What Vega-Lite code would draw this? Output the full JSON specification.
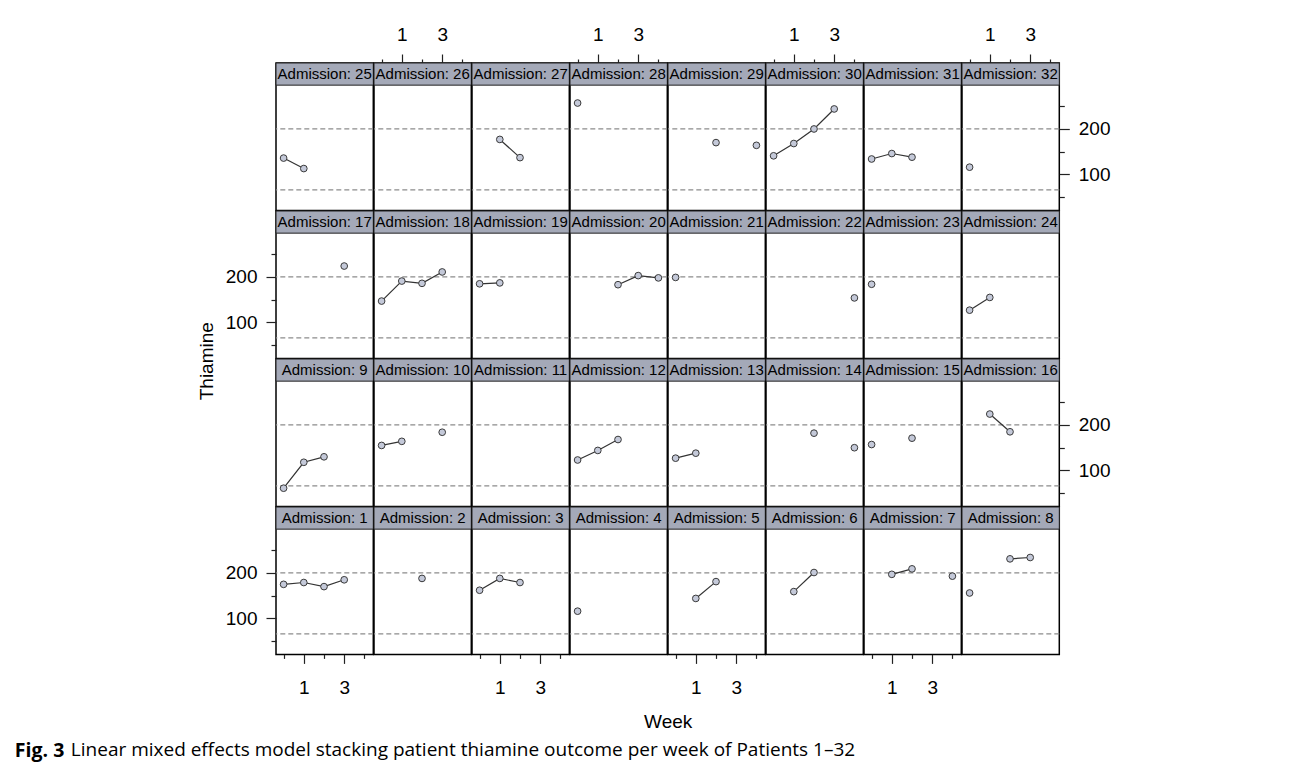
{
"$schema":"https://vega.github.io/schema/vega-lite/v6.json",
"background":"white",
"padding":{"left":14,"top":24,"right":5,"bottom":3},
"datasets":{
"refs":[{"ref":66},{"ref":200}],
"strips":[{"a":1,"label":"Admission: 1"},{"a":2,"label":"Admission: 2"},{"a":3,"label":"Admission: 3"},{"a":4,"label":"Admission: 4"},{"a":5,"label":"Admission: 5"},{"a":6,"label":"Admission: 6"},{"a":7,"label":"Admission: 7"},{"a":8,"label":"Admission: 8"},{"a":9,"label":"Admission: 9"},{"a":10,"label":"Admission: 10"},{"a":11,"label":"Admission: 11"},{"a":12,"label":"Admission: 12"},{"a":13,"label":"Admission: 13"},{"a":14,"label":"Admission: 14"},{"a":15,"label":"Admission: 15"},{"a":16,"label":"Admission: 16"},{"a":17,"label":"Admission: 17"},{"a":18,"label":"Admission: 18"},{"a":19,"label":"Admission: 19"},{"a":20,"label":"Admission: 20"},{"a":21,"label":"Admission: 21"},{"a":22,"label":"Admission: 22"},{"a":23,"label":"Admission: 23"},{"a":24,"label":"Admission: 24"},{"a":25,"label":"Admission: 25"},{"a":26,"label":"Admission: 26"},{"a":27,"label":"Admission: 27"},{"a":28,"label":"Admission: 28"},{"a":29,"label":"Admission: 29"},{"a":30,"label":"Admission: 30"},{"a":31,"label":"Admission: 31"},{"a":32,"label":"Admission: 32"}],
"obs":[
{"a":1,"week":0,"thiamine":175},{"a":1,"week":1,"thiamine":179},{"a":1,"week":2,"thiamine":170},{"a":1,"week":3,"thiamine":185},
{"a":2,"week":2,"thiamine":188},
{"a":3,"week":0,"thiamine":162},{"a":3,"week":1,"thiamine":188},{"a":3,"week":2,"thiamine":179},
{"a":4,"week":0,"thiamine":116},
{"a":5,"week":1,"thiamine":144},{"a":5,"week":2,"thiamine":181},
{"a":6,"week":1,"thiamine":159},{"a":6,"week":2,"thiamine":201},
{"a":7,"week":1,"thiamine":197},{"a":7,"week":2,"thiamine":209},{"a":7,"week":3,"thiamine":null},{"a":7,"week":4,"thiamine":193},
{"a":8,"week":0,"thiamine":156},{"a":8,"week":1,"thiamine":null},{"a":8,"week":2,"thiamine":231},{"a":8,"week":3,"thiamine":234},
{"a":9,"week":0,"thiamine":61},{"a":9,"week":1,"thiamine":118},{"a":9,"week":2,"thiamine":130},
{"a":10,"week":0,"thiamine":155},{"a":10,"week":1,"thiamine":164},{"a":10,"week":2,"thiamine":null},{"a":10,"week":3,"thiamine":184},
{"a":12,"week":0,"thiamine":123},{"a":12,"week":1,"thiamine":144},{"a":12,"week":2,"thiamine":168},
{"a":13,"week":0,"thiamine":127},{"a":13,"week":1,"thiamine":138},
{"a":14,"week":2,"thiamine":182},{"a":14,"week":3,"thiamine":null},{"a":14,"week":4,"thiamine":150},
{"a":15,"week":0,"thiamine":157},{"a":15,"week":1,"thiamine":null},{"a":15,"week":2,"thiamine":171},
{"a":16,"week":1,"thiamine":224},{"a":16,"week":2,"thiamine":185},
{"a":17,"week":3,"thiamine":224},
{"a":18,"week":0,"thiamine":147},{"a":18,"week":1,"thiamine":191},{"a":18,"week":2,"thiamine":186},{"a":18,"week":3,"thiamine":211},
{"a":19,"week":0,"thiamine":185},{"a":19,"week":1,"thiamine":187},
{"a":20,"week":2,"thiamine":183},{"a":20,"week":3,"thiamine":203},{"a":20,"week":4,"thiamine":198},
{"a":21,"week":0,"thiamine":199},
{"a":22,"week":4,"thiamine":154},
{"a":23,"week":0,"thiamine":184},
{"a":24,"week":0,"thiamine":127},{"a":24,"week":1,"thiamine":155},
{"a":25,"week":0,"thiamine":136},{"a":25,"week":1,"thiamine":113},
{"a":27,"week":1,"thiamine":177},{"a":27,"week":2,"thiamine":137},
{"a":28,"week":0,"thiamine":257},
{"a":29,"week":2,"thiamine":170},{"a":29,"week":3,"thiamine":null},{"a":29,"week":4,"thiamine":164},
{"a":30,"week":0,"thiamine":141},{"a":30,"week":1,"thiamine":168},{"a":30,"week":2,"thiamine":200},{"a":30,"week":3,"thiamine":244},
{"a":31,"week":0,"thiamine":134},{"a":31,"week":1,"thiamine":146},{"a":31,"week":2,"thiamine":138},
{"a":32,"week":0,"thiamine":116}
]},
"title":{"text":"Linear mixed effects model stacking patient thiamine outcome per week of Patients 1–32","orient":"bottom","anchor":"start","font":"Open Sans","fontWeight":"normal","fontSize":19,"dx":56,"offset":-19.3},
"vconcat":[{
"title":{"text":"Fig. 3","orient":"bottom","anchor":"start","font":"Open Sans","fontWeight":"bold","fontSize":19.5,"dx":-182.7,"offset":10},
"vconcat":[{
"title":{"text":"Week","orient":"bottom","anchor":"middle","dx":14,"offset":15},
"vconcat":[{
"title":{"text":"Thiamine","orient":"left","anchor":"middle","offset":8},
"columns":8,"spacing":0,"bounds":"flush",
"concat":[
{"width":97.3,"height":147.4,"layer":[{"data":{"name":"refs"},"mark":{"type":"rule","stroke":"#8c8c8c","strokeDash":[5,3],"strokeWidth":1.3},"encoding":{"y":{"field":"ref","type":"quantitative","scale":{"domain":[21,345],"nice":false},"axis":null}}},{"data":{"name":"strips"},"transform":[{"filter":"datum.a==25"}],"mark":{"type":"rect","fill":"#a4a9b8","stroke":"#222","strokeWidth":1},"encoding":{"x":{"value":0},"x2":{"value":"width"},"y":{"datum":296.3,"scale":{"domain":[21,345],"nice":false},"axis":null},"y2":{"datum":345}}},{"data":{"name":"strips"},"transform":[{"filter":"datum.a==25"}],"mark":{"type":"text","fontSize":15,"fill":"#000"},"encoding":{"text":{"field":"label"},"x":{"datum":2.032,"scale":{"domain":[-0.376,4.44],"nice":false},"axis":null},"y":{"datum":320.65,"scale":{"domain":[21,345],"nice":false},"axis":null}}},{"data":{"name":"obs"},"transform":[{"filter":"datum.a==25"}],"encoding":{"x":{"field":"week","type":"quantitative","scale":{"domain":[-0.376,4.44],"nice":false},"axis":null},"y":{"field":"thiamine","type":"quantitative","scale":{"domain":[21,345],"nice":false},"axis":null}},"layer":[{"mark":{"type":"line","color":"#333","strokeWidth":1.2,"invalid":"break-paths-filter-domains"}},{"mark":{"type":"point","shape":"circle","filled":true,"fill":"#c4c9d9","stroke":"#3a3a3a","strokeWidth":1,"size":45,"opacity":1}}]}]},
{"width":97.3,"height":147.4,"layer":[{"data":{"name":"refs"},"mark":{"type":"rule","stroke":"#8c8c8c","strokeDash":[5,3],"strokeWidth":1.3},"encoding":{"y":{"field":"ref","type":"quantitative","scale":{"domain":[21,345],"nice":false},"axis":null}}},{"data":{"name":"strips"},"transform":[{"filter":"datum.a==26"}],"mark":{"type":"rect","fill":"#a4a9b8","stroke":"#222","strokeWidth":1},"encoding":{"x":{"value":0},"x2":{"value":"width"},"y":{"datum":296.3,"scale":{"domain":[21,345],"nice":false},"axis":null},"y2":{"datum":345}}},{"data":{"name":"strips"},"transform":[{"filter":"datum.a==26"}],"mark":{"type":"text","fontSize":15,"fill":"#000"},"encoding":{"text":{"field":"label"},"x":{"datum":2.032,"scale":{"domain":[-0.376,4.44],"nice":false},"axis":{"orient":"top","title":null,"values":[0,1,2,3,4],"labelExpr":"datum.value==1||datum.value==3?datum.label:''","tickSize":{"condition":{"test":"datum.value==1||datum.value==3","value":9},"value":4},"labelPadding":10}},"y":{"datum":320.65,"scale":{"domain":[21,345],"nice":false},"axis":null}}},{"data":{"name":"obs"},"transform":[{"filter":"datum.a==26"}],"encoding":{"x":{"field":"week","type":"quantitative","scale":{"domain":[-0.376,4.44],"nice":false},"axis":{"orient":"top","title":null,"values":[0,1,2,3,4],"labelExpr":"datum.value==1||datum.value==3?datum.label:''","tickSize":{"condition":{"test":"datum.value==1||datum.value==3","value":9},"value":4},"labelPadding":10}},"y":{"field":"thiamine","type":"quantitative","scale":{"domain":[21,345],"nice":false},"axis":null}},"layer":[{"mark":{"type":"line","color":"#333","strokeWidth":1.2,"invalid":"break-paths-filter-domains"}},{"mark":{"type":"point","shape":"circle","filled":true,"fill":"#c4c9d9","stroke":"#3a3a3a","strokeWidth":1,"size":45,"opacity":1}}]}]},
{"width":97.3,"height":147.4,"layer":[{"data":{"name":"refs"},"mark":{"type":"rule","stroke":"#8c8c8c","strokeDash":[5,3],"strokeWidth":1.3},"encoding":{"y":{"field":"ref","type":"quantitative","scale":{"domain":[21,345],"nice":false},"axis":null}}},{"data":{"name":"strips"},"transform":[{"filter":"datum.a==27"}],"mark":{"type":"rect","fill":"#a4a9b8","stroke":"#222","strokeWidth":1},"encoding":{"x":{"value":0},"x2":{"value":"width"},"y":{"datum":296.3,"scale":{"domain":[21,345],"nice":false},"axis":null},"y2":{"datum":345}}},{"data":{"name":"strips"},"transform":[{"filter":"datum.a==27"}],"mark":{"type":"text","fontSize":15,"fill":"#000"},"encoding":{"text":{"field":"label"},"x":{"datum":2.032,"scale":{"domain":[-0.376,4.44],"nice":false},"axis":null},"y":{"datum":320.65,"scale":{"domain":[21,345],"nice":false},"axis":null}}},{"data":{"name":"obs"},"transform":[{"filter":"datum.a==27"}],"encoding":{"x":{"field":"week","type":"quantitative","scale":{"domain":[-0.376,4.44],"nice":false},"axis":null},"y":{"field":"thiamine","type":"quantitative","scale":{"domain":[21,345],"nice":false},"axis":null}},"layer":[{"mark":{"type":"line","color":"#333","strokeWidth":1.2,"invalid":"break-paths-filter-domains"}},{"mark":{"type":"point","shape":"circle","filled":true,"fill":"#c4c9d9","stroke":"#3a3a3a","strokeWidth":1,"size":45,"opacity":1}}]}]},
{"width":97.3,"height":147.4,"layer":[{"data":{"name":"refs"},"mark":{"type":"rule","stroke":"#8c8c8c","strokeDash":[5,3],"strokeWidth":1.3},"encoding":{"y":{"field":"ref","type":"quantitative","scale":{"domain":[21,345],"nice":false},"axis":null}}},{"data":{"name":"strips"},"transform":[{"filter":"datum.a==28"}],"mark":{"type":"rect","fill":"#a4a9b8","stroke":"#222","strokeWidth":1},"encoding":{"x":{"value":0},"x2":{"value":"width"},"y":{"datum":296.3,"scale":{"domain":[21,345],"nice":false},"axis":null},"y2":{"datum":345}}},{"data":{"name":"strips"},"transform":[{"filter":"datum.a==28"}],"mark":{"type":"text","fontSize":15,"fill":"#000"},"encoding":{"text":{"field":"label"},"x":{"datum":2.032,"scale":{"domain":[-0.376,4.44],"nice":false},"axis":{"orient":"top","title":null,"values":[0,1,2,3,4],"labelExpr":"datum.value==1||datum.value==3?datum.label:''","tickSize":{"condition":{"test":"datum.value==1||datum.value==3","value":9},"value":4},"labelPadding":10}},"y":{"datum":320.65,"scale":{"domain":[21,345],"nice":false},"axis":null}}},{"data":{"name":"obs"},"transform":[{"filter":"datum.a==28"}],"encoding":{"x":{"field":"week","type":"quantitative","scale":{"domain":[-0.376,4.44],"nice":false},"axis":{"orient":"top","title":null,"values":[0,1,2,3,4],"labelExpr":"datum.value==1||datum.value==3?datum.label:''","tickSize":{"condition":{"test":"datum.value==1||datum.value==3","value":9},"value":4},"labelPadding":10}},"y":{"field":"thiamine","type":"quantitative","scale":{"domain":[21,345],"nice":false},"axis":null}},"layer":[{"mark":{"type":"line","color":"#333","strokeWidth":1.2,"invalid":"break-paths-filter-domains"}},{"mark":{"type":"point","shape":"circle","filled":true,"fill":"#c4c9d9","stroke":"#3a3a3a","strokeWidth":1,"size":45,"opacity":1}}]}]},
{"width":97.3,"height":147.4,"layer":[{"data":{"name":"refs"},"mark":{"type":"rule","stroke":"#8c8c8c","strokeDash":[5,3],"strokeWidth":1.3},"encoding":{"y":{"field":"ref","type":"quantitative","scale":{"domain":[21,345],"nice":false},"axis":null}}},{"data":{"name":"strips"},"transform":[{"filter":"datum.a==29"}],"mark":{"type":"rect","fill":"#a4a9b8","stroke":"#222","strokeWidth":1},"encoding":{"x":{"value":0},"x2":{"value":"width"},"y":{"datum":296.3,"scale":{"domain":[21,345],"nice":false},"axis":null},"y2":{"datum":345}}},{"data":{"name":"strips"},"transform":[{"filter":"datum.a==29"}],"mark":{"type":"text","fontSize":15,"fill":"#000"},"encoding":{"text":{"field":"label"},"x":{"datum":2.032,"scale":{"domain":[-0.376,4.44],"nice":false},"axis":null},"y":{"datum":320.65,"scale":{"domain":[21,345],"nice":false},"axis":null}}},{"data":{"name":"obs"},"transform":[{"filter":"datum.a==29"}],"encoding":{"x":{"field":"week","type":"quantitative","scale":{"domain":[-0.376,4.44],"nice":false},"axis":null},"y":{"field":"thiamine","type":"quantitative","scale":{"domain":[21,345],"nice":false},"axis":null}},"layer":[{"mark":{"type":"line","color":"#333","strokeWidth":1.2,"invalid":"break-paths-filter-domains"}},{"mark":{"type":"point","shape":"circle","filled":true,"fill":"#c4c9d9","stroke":"#3a3a3a","strokeWidth":1,"size":45,"opacity":1}}]}]},
{"width":97.3,"height":147.4,"layer":[{"data":{"name":"refs"},"mark":{"type":"rule","stroke":"#8c8c8c","strokeDash":[5,3],"strokeWidth":1.3},"encoding":{"y":{"field":"ref","type":"quantitative","scale":{"domain":[21,345],"nice":false},"axis":null}}},{"data":{"name":"strips"},"transform":[{"filter":"datum.a==30"}],"mark":{"type":"rect","fill":"#a4a9b8","stroke":"#222","strokeWidth":1},"encoding":{"x":{"value":0},"x2":{"value":"width"},"y":{"datum":296.3,"scale":{"domain":[21,345],"nice":false},"axis":null},"y2":{"datum":345}}},{"data":{"name":"strips"},"transform":[{"filter":"datum.a==30"}],"mark":{"type":"text","fontSize":15,"fill":"#000"},"encoding":{"text":{"field":"label"},"x":{"datum":2.032,"scale":{"domain":[-0.376,4.44],"nice":false},"axis":{"orient":"top","title":null,"values":[0,1,2,3,4],"labelExpr":"datum.value==1||datum.value==3?datum.label:''","tickSize":{"condition":{"test":"datum.value==1||datum.value==3","value":9},"value":4},"labelPadding":10}},"y":{"datum":320.65,"scale":{"domain":[21,345],"nice":false},"axis":null}}},{"data":{"name":"obs"},"transform":[{"filter":"datum.a==30"}],"encoding":{"x":{"field":"week","type":"quantitative","scale":{"domain":[-0.376,4.44],"nice":false},"axis":{"orient":"top","title":null,"values":[0,1,2,3,4],"labelExpr":"datum.value==1||datum.value==3?datum.label:''","tickSize":{"condition":{"test":"datum.value==1||datum.value==3","value":9},"value":4},"labelPadding":10}},"y":{"field":"thiamine","type":"quantitative","scale":{"domain":[21,345],"nice":false},"axis":null}},"layer":[{"mark":{"type":"line","color":"#333","strokeWidth":1.2,"invalid":"break-paths-filter-domains"}},{"mark":{"type":"point","shape":"circle","filled":true,"fill":"#c4c9d9","stroke":"#3a3a3a","strokeWidth":1,"size":45,"opacity":1}}]}]},
{"width":97.3,"height":147.4,"layer":[{"data":{"name":"refs"},"mark":{"type":"rule","stroke":"#8c8c8c","strokeDash":[5,3],"strokeWidth":1.3},"encoding":{"y":{"field":"ref","type":"quantitative","scale":{"domain":[21,345],"nice":false},"axis":null}}},{"data":{"name":"strips"},"transform":[{"filter":"datum.a==31"}],"mark":{"type":"rect","fill":"#a4a9b8","stroke":"#222","strokeWidth":1},"encoding":{"x":{"value":0},"x2":{"value":"width"},"y":{"datum":296.3,"scale":{"domain":[21,345],"nice":false},"axis":null},"y2":{"datum":345}}},{"data":{"name":"strips"},"transform":[{"filter":"datum.a==31"}],"mark":{"type":"text","fontSize":15,"fill":"#000"},"encoding":{"text":{"field":"label"},"x":{"datum":2.032,"scale":{"domain":[-0.376,4.44],"nice":false},"axis":null},"y":{"datum":320.65,"scale":{"domain":[21,345],"nice":false},"axis":null}}},{"data":{"name":"obs"},"transform":[{"filter":"datum.a==31"}],"encoding":{"x":{"field":"week","type":"quantitative","scale":{"domain":[-0.376,4.44],"nice":false},"axis":null},"y":{"field":"thiamine","type":"quantitative","scale":{"domain":[21,345],"nice":false},"axis":null}},"layer":[{"mark":{"type":"line","color":"#333","strokeWidth":1.2,"invalid":"break-paths-filter-domains"}},{"mark":{"type":"point","shape":"circle","filled":true,"fill":"#c4c9d9","stroke":"#3a3a3a","strokeWidth":1,"size":45,"opacity":1}}]}]},
{"width":97.3,"height":147.4,"layer":[{"data":{"name":"refs"},"mark":{"type":"rule","stroke":"#8c8c8c","strokeDash":[5,3],"strokeWidth":1.3},"encoding":{"y":{"field":"ref","type":"quantitative","scale":{"domain":[21,345],"nice":false},"axis":{"orient":"right","title":null,"values":[50,100,150,200,250],"labelExpr":"datum.value==100||datum.value==200?datum.label:''","tickSize":{"condition":{"test":"datum.value==100||datum.value==200","value":10},"value":5},"labelPadding":9}}}},{"data":{"name":"strips"},"transform":[{"filter":"datum.a==32"}],"mark":{"type":"rect","fill":"#a4a9b8","stroke":"#222","strokeWidth":1},"encoding":{"x":{"value":0},"x2":{"value":"width"},"y":{"datum":296.3,"scale":{"domain":[21,345],"nice":false},"axis":{"orient":"right","title":null,"values":[50,100,150,200,250],"labelExpr":"datum.value==100||datum.value==200?datum.label:''","tickSize":{"condition":{"test":"datum.value==100||datum.value==200","value":10},"value":5},"labelPadding":9}},"y2":{"datum":345}}},{"data":{"name":"strips"},"transform":[{"filter":"datum.a==32"}],"mark":{"type":"text","fontSize":15,"fill":"#000"},"encoding":{"text":{"field":"label"},"x":{"datum":2.032,"scale":{"domain":[-0.376,4.44],"nice":false},"axis":{"orient":"top","title":null,"values":[0,1,2,3,4],"labelExpr":"datum.value==1||datum.value==3?datum.label:''","tickSize":{"condition":{"test":"datum.value==1||datum.value==3","value":9},"value":4},"labelPadding":10}},"y":{"datum":320.65,"scale":{"domain":[21,345],"nice":false},"axis":{"orient":"right","title":null,"values":[50,100,150,200,250],"labelExpr":"datum.value==100||datum.value==200?datum.label:''","tickSize":{"condition":{"test":"datum.value==100||datum.value==200","value":10},"value":5},"labelPadding":9}}}},{"data":{"name":"obs"},"transform":[{"filter":"datum.a==32"}],"encoding":{"x":{"field":"week","type":"quantitative","scale":{"domain":[-0.376,4.44],"nice":false},"axis":{"orient":"top","title":null,"values":[0,1,2,3,4],"labelExpr":"datum.value==1||datum.value==3?datum.label:''","tickSize":{"condition":{"test":"datum.value==1||datum.value==3","value":9},"value":4},"labelPadding":10}},"y":{"field":"thiamine","type":"quantitative","scale":{"domain":[21,345],"nice":false},"axis":{"orient":"right","title":null,"values":[50,100,150,200,250],"labelExpr":"datum.value==100||datum.value==200?datum.label:''","tickSize":{"condition":{"test":"datum.value==100||datum.value==200","value":10},"value":5},"labelPadding":9}}},"layer":[{"mark":{"type":"line","color":"#333","strokeWidth":1.2,"invalid":"break-paths-filter-domains"}},{"mark":{"type":"point","shape":"circle","filled":true,"fill":"#c4c9d9","stroke":"#3a3a3a","strokeWidth":1,"size":45,"opacity":1}}]}]},
{"width":97.3,"height":147.4,"layer":[{"data":{"name":"refs"},"mark":{"type":"rule","stroke":"#8c8c8c","strokeDash":[5,3],"strokeWidth":1.3},"encoding":{"y":{"field":"ref","type":"quantitative","scale":{"domain":[21,345],"nice":false},"axis":{"orient":"left","title":null,"values":[50,100,150,200,250],"labelExpr":"datum.value==100||datum.value==200?datum.label:''","tickSize":{"condition":{"test":"datum.value==100||datum.value==200","value":10},"value":5},"labelPadding":9}}}},{"data":{"name":"strips"},"transform":[{"filter":"datum.a==17"}],"mark":{"type":"rect","fill":"#a4a9b8","stroke":"#222","strokeWidth":1},"encoding":{"x":{"value":0},"x2":{"value":"width"},"y":{"datum":296.3,"scale":{"domain":[21,345],"nice":false},"axis":{"orient":"left","title":null,"values":[50,100,150,200,250],"labelExpr":"datum.value==100||datum.value==200?datum.label:''","tickSize":{"condition":{"test":"datum.value==100||datum.value==200","value":10},"value":5},"labelPadding":9}},"y2":{"datum":345}}},{"data":{"name":"strips"},"transform":[{"filter":"datum.a==17"}],"mark":{"type":"text","fontSize":15,"fill":"#000"},"encoding":{"text":{"field":"label"},"x":{"datum":2.032,"scale":{"domain":[-0.376,4.44],"nice":false},"axis":null},"y":{"datum":320.65,"scale":{"domain":[21,345],"nice":false},"axis":{"orient":"left","title":null,"values":[50,100,150,200,250],"labelExpr":"datum.value==100||datum.value==200?datum.label:''","tickSize":{"condition":{"test":"datum.value==100||datum.value==200","value":10},"value":5},"labelPadding":9}}}},{"data":{"name":"obs"},"transform":[{"filter":"datum.a==17"}],"encoding":{"x":{"field":"week","type":"quantitative","scale":{"domain":[-0.376,4.44],"nice":false},"axis":null},"y":{"field":"thiamine","type":"quantitative","scale":{"domain":[21,345],"nice":false},"axis":{"orient":"left","title":null,"values":[50,100,150,200,250],"labelExpr":"datum.value==100||datum.value==200?datum.label:''","tickSize":{"condition":{"test":"datum.value==100||datum.value==200","value":10},"value":5},"labelPadding":9}}},"layer":[{"mark":{"type":"line","color":"#333","strokeWidth":1.2,"invalid":"break-paths-filter-domains"}},{"mark":{"type":"point","shape":"circle","filled":true,"fill":"#c4c9d9","stroke":"#3a3a3a","strokeWidth":1,"size":45,"opacity":1}}]}]},
{"width":97.3,"height":147.4,"layer":[{"data":{"name":"refs"},"mark":{"type":"rule","stroke":"#8c8c8c","strokeDash":[5,3],"strokeWidth":1.3},"encoding":{"y":{"field":"ref","type":"quantitative","scale":{"domain":[21,345],"nice":false},"axis":null}}},{"data":{"name":"strips"},"transform":[{"filter":"datum.a==18"}],"mark":{"type":"rect","fill":"#a4a9b8","stroke":"#222","strokeWidth":1},"encoding":{"x":{"value":0},"x2":{"value":"width"},"y":{"datum":296.3,"scale":{"domain":[21,345],"nice":false},"axis":null},"y2":{"datum":345}}},{"data":{"name":"strips"},"transform":[{"filter":"datum.a==18"}],"mark":{"type":"text","fontSize":15,"fill":"#000"},"encoding":{"text":{"field":"label"},"x":{"datum":2.032,"scale":{"domain":[-0.376,4.44],"nice":false},"axis":null},"y":{"datum":320.65,"scale":{"domain":[21,345],"nice":false},"axis":null}}},{"data":{"name":"obs"},"transform":[{"filter":"datum.a==18"}],"encoding":{"x":{"field":"week","type":"quantitative","scale":{"domain":[-0.376,4.44],"nice":false},"axis":null},"y":{"field":"thiamine","type":"quantitative","scale":{"domain":[21,345],"nice":false},"axis":null}},"layer":[{"mark":{"type":"line","color":"#333","strokeWidth":1.2,"invalid":"break-paths-filter-domains"}},{"mark":{"type":"point","shape":"circle","filled":true,"fill":"#c4c9d9","stroke":"#3a3a3a","strokeWidth":1,"size":45,"opacity":1}}]}]},
{"width":97.3,"height":147.4,"layer":[{"data":{"name":"refs"},"mark":{"type":"rule","stroke":"#8c8c8c","strokeDash":[5,3],"strokeWidth":1.3},"encoding":{"y":{"field":"ref","type":"quantitative","scale":{"domain":[21,345],"nice":false},"axis":null}}},{"data":{"name":"strips"},"transform":[{"filter":"datum.a==19"}],"mark":{"type":"rect","fill":"#a4a9b8","stroke":"#222","strokeWidth":1},"encoding":{"x":{"value":0},"x2":{"value":"width"},"y":{"datum":296.3,"scale":{"domain":[21,345],"nice":false},"axis":null},"y2":{"datum":345}}},{"data":{"name":"strips"},"transform":[{"filter":"datum.a==19"}],"mark":{"type":"text","fontSize":15,"fill":"#000"},"encoding":{"text":{"field":"label"},"x":{"datum":2.032,"scale":{"domain":[-0.376,4.44],"nice":false},"axis":null},"y":{"datum":320.65,"scale":{"domain":[21,345],"nice":false},"axis":null}}},{"data":{"name":"obs"},"transform":[{"filter":"datum.a==19"}],"encoding":{"x":{"field":"week","type":"quantitative","scale":{"domain":[-0.376,4.44],"nice":false},"axis":null},"y":{"field":"thiamine","type":"quantitative","scale":{"domain":[21,345],"nice":false},"axis":null}},"layer":[{"mark":{"type":"line","color":"#333","strokeWidth":1.2,"invalid":"break-paths-filter-domains"}},{"mark":{"type":"point","shape":"circle","filled":true,"fill":"#c4c9d9","stroke":"#3a3a3a","strokeWidth":1,"size":45,"opacity":1}}]}]},
{"width":97.3,"height":147.4,"layer":[{"data":{"name":"refs"},"mark":{"type":"rule","stroke":"#8c8c8c","strokeDash":[5,3],"strokeWidth":1.3},"encoding":{"y":{"field":"ref","type":"quantitative","scale":{"domain":[21,345],"nice":false},"axis":null}}},{"data":{"name":"strips"},"transform":[{"filter":"datum.a==20"}],"mark":{"type":"rect","fill":"#a4a9b8","stroke":"#222","strokeWidth":1},"encoding":{"x":{"value":0},"x2":{"value":"width"},"y":{"datum":296.3,"scale":{"domain":[21,345],"nice":false},"axis":null},"y2":{"datum":345}}},{"data":{"name":"strips"},"transform":[{"filter":"datum.a==20"}],"mark":{"type":"text","fontSize":15,"fill":"#000"},"encoding":{"text":{"field":"label"},"x":{"datum":2.032,"scale":{"domain":[-0.376,4.44],"nice":false},"axis":null},"y":{"datum":320.65,"scale":{"domain":[21,345],"nice":false},"axis":null}}},{"data":{"name":"obs"},"transform":[{"filter":"datum.a==20"}],"encoding":{"x":{"field":"week","type":"quantitative","scale":{"domain":[-0.376,4.44],"nice":false},"axis":null},"y":{"field":"thiamine","type":"quantitative","scale":{"domain":[21,345],"nice":false},"axis":null}},"layer":[{"mark":{"type":"line","color":"#333","strokeWidth":1.2,"invalid":"break-paths-filter-domains"}},{"mark":{"type":"point","shape":"circle","filled":true,"fill":"#c4c9d9","stroke":"#3a3a3a","strokeWidth":1,"size":45,"opacity":1}}]}]},
{"width":97.3,"height":147.4,"layer":[{"data":{"name":"refs"},"mark":{"type":"rule","stroke":"#8c8c8c","strokeDash":[5,3],"strokeWidth":1.3},"encoding":{"y":{"field":"ref","type":"quantitative","scale":{"domain":[21,345],"nice":false},"axis":null}}},{"data":{"name":"strips"},"transform":[{"filter":"datum.a==21"}],"mark":{"type":"rect","fill":"#a4a9b8","stroke":"#222","strokeWidth":1},"encoding":{"x":{"value":0},"x2":{"value":"width"},"y":{"datum":296.3,"scale":{"domain":[21,345],"nice":false},"axis":null},"y2":{"datum":345}}},{"data":{"name":"strips"},"transform":[{"filter":"datum.a==21"}],"mark":{"type":"text","fontSize":15,"fill":"#000"},"encoding":{"text":{"field":"label"},"x":{"datum":2.032,"scale":{"domain":[-0.376,4.44],"nice":false},"axis":null},"y":{"datum":320.65,"scale":{"domain":[21,345],"nice":false},"axis":null}}},{"data":{"name":"obs"},"transform":[{"filter":"datum.a==21"}],"encoding":{"x":{"field":"week","type":"quantitative","scale":{"domain":[-0.376,4.44],"nice":false},"axis":null},"y":{"field":"thiamine","type":"quantitative","scale":{"domain":[21,345],"nice":false},"axis":null}},"layer":[{"mark":{"type":"line","color":"#333","strokeWidth":1.2,"invalid":"break-paths-filter-domains"}},{"mark":{"type":"point","shape":"circle","filled":true,"fill":"#c4c9d9","stroke":"#3a3a3a","strokeWidth":1,"size":45,"opacity":1}}]}]},
{"width":97.3,"height":147.4,"layer":[{"data":{"name":"refs"},"mark":{"type":"rule","stroke":"#8c8c8c","strokeDash":[5,3],"strokeWidth":1.3},"encoding":{"y":{"field":"ref","type":"quantitative","scale":{"domain":[21,345],"nice":false},"axis":null}}},{"data":{"name":"strips"},"transform":[{"filter":"datum.a==22"}],"mark":{"type":"rect","fill":"#a4a9b8","stroke":"#222","strokeWidth":1},"encoding":{"x":{"value":0},"x2":{"value":"width"},"y":{"datum":296.3,"scale":{"domain":[21,345],"nice":false},"axis":null},"y2":{"datum":345}}},{"data":{"name":"strips"},"transform":[{"filter":"datum.a==22"}],"mark":{"type":"text","fontSize":15,"fill":"#000"},"encoding":{"text":{"field":"label"},"x":{"datum":2.032,"scale":{"domain":[-0.376,4.44],"nice":false},"axis":null},"y":{"datum":320.65,"scale":{"domain":[21,345],"nice":false},"axis":null}}},{"data":{"name":"obs"},"transform":[{"filter":"datum.a==22"}],"encoding":{"x":{"field":"week","type":"quantitative","scale":{"domain":[-0.376,4.44],"nice":false},"axis":null},"y":{"field":"thiamine","type":"quantitative","scale":{"domain":[21,345],"nice":false},"axis":null}},"layer":[{"mark":{"type":"line","color":"#333","strokeWidth":1.2,"invalid":"break-paths-filter-domains"}},{"mark":{"type":"point","shape":"circle","filled":true,"fill":"#c4c9d9","stroke":"#3a3a3a","strokeWidth":1,"size":45,"opacity":1}}]}]},
{"width":97.3,"height":147.4,"layer":[{"data":{"name":"refs"},"mark":{"type":"rule","stroke":"#8c8c8c","strokeDash":[5,3],"strokeWidth":1.3},"encoding":{"y":{"field":"ref","type":"quantitative","scale":{"domain":[21,345],"nice":false},"axis":null}}},{"data":{"name":"strips"},"transform":[{"filter":"datum.a==23"}],"mark":{"type":"rect","fill":"#a4a9b8","stroke":"#222","strokeWidth":1},"encoding":{"x":{"value":0},"x2":{"value":"width"},"y":{"datum":296.3,"scale":{"domain":[21,345],"nice":false},"axis":null},"y2":{"datum":345}}},{"data":{"name":"strips"},"transform":[{"filter":"datum.a==23"}],"mark":{"type":"text","fontSize":15,"fill":"#000"},"encoding":{"text":{"field":"label"},"x":{"datum":2.032,"scale":{"domain":[-0.376,4.44],"nice":false},"axis":null},"y":{"datum":320.65,"scale":{"domain":[21,345],"nice":false},"axis":null}}},{"data":{"name":"obs"},"transform":[{"filter":"datum.a==23"}],"encoding":{"x":{"field":"week","type":"quantitative","scale":{"domain":[-0.376,4.44],"nice":false},"axis":null},"y":{"field":"thiamine","type":"quantitative","scale":{"domain":[21,345],"nice":false},"axis":null}},"layer":[{"mark":{"type":"line","color":"#333","strokeWidth":1.2,"invalid":"break-paths-filter-domains"}},{"mark":{"type":"point","shape":"circle","filled":true,"fill":"#c4c9d9","stroke":"#3a3a3a","strokeWidth":1,"size":45,"opacity":1}}]}]},
{"width":97.3,"height":147.4,"layer":[{"data":{"name":"refs"},"mark":{"type":"rule","stroke":"#8c8c8c","strokeDash":[5,3],"strokeWidth":1.3},"encoding":{"y":{"field":"ref","type":"quantitative","scale":{"domain":[21,345],"nice":false},"axis":null}}},{"data":{"name":"strips"},"transform":[{"filter":"datum.a==24"}],"mark":{"type":"rect","fill":"#a4a9b8","stroke":"#222","strokeWidth":1},"encoding":{"x":{"value":0},"x2":{"value":"width"},"y":{"datum":296.3,"scale":{"domain":[21,345],"nice":false},"axis":null},"y2":{"datum":345}}},{"data":{"name":"strips"},"transform":[{"filter":"datum.a==24"}],"mark":{"type":"text","fontSize":15,"fill":"#000"},"encoding":{"text":{"field":"label"},"x":{"datum":2.032,"scale":{"domain":[-0.376,4.44],"nice":false},"axis":null},"y":{"datum":320.65,"scale":{"domain":[21,345],"nice":false},"axis":null}}},{"data":{"name":"obs"},"transform":[{"filter":"datum.a==24"}],"encoding":{"x":{"field":"week","type":"quantitative","scale":{"domain":[-0.376,4.44],"nice":false},"axis":null},"y":{"field":"thiamine","type":"quantitative","scale":{"domain":[21,345],"nice":false},"axis":null}},"layer":[{"mark":{"type":"line","color":"#333","strokeWidth":1.2,"invalid":"break-paths-filter-domains"}},{"mark":{"type":"point","shape":"circle","filled":true,"fill":"#c4c9d9","stroke":"#3a3a3a","strokeWidth":1,"size":45,"opacity":1}}]}]},
{"width":97.3,"height":147.4,"layer":[{"data":{"name":"refs"},"mark":{"type":"rule","stroke":"#8c8c8c","strokeDash":[5,3],"strokeWidth":1.3},"encoding":{"y":{"field":"ref","type":"quantitative","scale":{"domain":[21,345],"nice":false},"axis":null}}},{"data":{"name":"strips"},"transform":[{"filter":"datum.a==9"}],"mark":{"type":"rect","fill":"#a4a9b8","stroke":"#222","strokeWidth":1},"encoding":{"x":{"value":0},"x2":{"value":"width"},"y":{"datum":296.3,"scale":{"domain":[21,345],"nice":false},"axis":null},"y2":{"datum":345}}},{"data":{"name":"strips"},"transform":[{"filter":"datum.a==9"}],"mark":{"type":"text","fontSize":15,"fill":"#000"},"encoding":{"text":{"field":"label"},"x":{"datum":2.032,"scale":{"domain":[-0.376,4.44],"nice":false},"axis":null},"y":{"datum":320.65,"scale":{"domain":[21,345],"nice":false},"axis":null}}},{"data":{"name":"obs"},"transform":[{"filter":"datum.a==9"}],"encoding":{"x":{"field":"week","type":"quantitative","scale":{"domain":[-0.376,4.44],"nice":false},"axis":null},"y":{"field":"thiamine","type":"quantitative","scale":{"domain":[21,345],"nice":false},"axis":null}},"layer":[{"mark":{"type":"line","color":"#333","strokeWidth":1.2,"invalid":"break-paths-filter-domains"}},{"mark":{"type":"point","shape":"circle","filled":true,"fill":"#c4c9d9","stroke":"#3a3a3a","strokeWidth":1,"size":45,"opacity":1}}]}]},
{"width":97.3,"height":147.4,"layer":[{"data":{"name":"refs"},"mark":{"type":"rule","stroke":"#8c8c8c","strokeDash":[5,3],"strokeWidth":1.3},"encoding":{"y":{"field":"ref","type":"quantitative","scale":{"domain":[21,345],"nice":false},"axis":null}}},{"data":{"name":"strips"},"transform":[{"filter":"datum.a==10"}],"mark":{"type":"rect","fill":"#a4a9b8","stroke":"#222","strokeWidth":1},"encoding":{"x":{"value":0},"x2":{"value":"width"},"y":{"datum":296.3,"scale":{"domain":[21,345],"nice":false},"axis":null},"y2":{"datum":345}}},{"data":{"name":"strips"},"transform":[{"filter":"datum.a==10"}],"mark":{"type":"text","fontSize":15,"fill":"#000"},"encoding":{"text":{"field":"label"},"x":{"datum":2.032,"scale":{"domain":[-0.376,4.44],"nice":false},"axis":null},"y":{"datum":320.65,"scale":{"domain":[21,345],"nice":false},"axis":null}}},{"data":{"name":"obs"},"transform":[{"filter":"datum.a==10"}],"encoding":{"x":{"field":"week","type":"quantitative","scale":{"domain":[-0.376,4.44],"nice":false},"axis":null},"y":{"field":"thiamine","type":"quantitative","scale":{"domain":[21,345],"nice":false},"axis":null}},"layer":[{"mark":{"type":"line","color":"#333","strokeWidth":1.2,"invalid":"break-paths-filter-domains"}},{"mark":{"type":"point","shape":"circle","filled":true,"fill":"#c4c9d9","stroke":"#3a3a3a","strokeWidth":1,"size":45,"opacity":1}}]}]},
{"width":97.3,"height":147.4,"layer":[{"data":{"name":"refs"},"mark":{"type":"rule","stroke":"#8c8c8c","strokeDash":[5,3],"strokeWidth":1.3},"encoding":{"y":{"field":"ref","type":"quantitative","scale":{"domain":[21,345],"nice":false},"axis":null}}},{"data":{"name":"strips"},"transform":[{"filter":"datum.a==11"}],"mark":{"type":"rect","fill":"#a4a9b8","stroke":"#222","strokeWidth":1},"encoding":{"x":{"value":0},"x2":{"value":"width"},"y":{"datum":296.3,"scale":{"domain":[21,345],"nice":false},"axis":null},"y2":{"datum":345}}},{"data":{"name":"strips"},"transform":[{"filter":"datum.a==11"}],"mark":{"type":"text","fontSize":15,"fill":"#000"},"encoding":{"text":{"field":"label"},"x":{"datum":2.032,"scale":{"domain":[-0.376,4.44],"nice":false},"axis":null},"y":{"datum":320.65,"scale":{"domain":[21,345],"nice":false},"axis":null}}},{"data":{"name":"obs"},"transform":[{"filter":"datum.a==11"}],"encoding":{"x":{"field":"week","type":"quantitative","scale":{"domain":[-0.376,4.44],"nice":false},"axis":null},"y":{"field":"thiamine","type":"quantitative","scale":{"domain":[21,345],"nice":false},"axis":null}},"layer":[{"mark":{"type":"line","color":"#333","strokeWidth":1.2,"invalid":"break-paths-filter-domains"}},{"mark":{"type":"point","shape":"circle","filled":true,"fill":"#c4c9d9","stroke":"#3a3a3a","strokeWidth":1,"size":45,"opacity":1}}]}]},
{"width":97.3,"height":147.4,"layer":[{"data":{"name":"refs"},"mark":{"type":"rule","stroke":"#8c8c8c","strokeDash":[5,3],"strokeWidth":1.3},"encoding":{"y":{"field":"ref","type":"quantitative","scale":{"domain":[21,345],"nice":false},"axis":null}}},{"data":{"name":"strips"},"transform":[{"filter":"datum.a==12"}],"mark":{"type":"rect","fill":"#a4a9b8","stroke":"#222","strokeWidth":1},"encoding":{"x":{"value":0},"x2":{"value":"width"},"y":{"datum":296.3,"scale":{"domain":[21,345],"nice":false},"axis":null},"y2":{"datum":345}}},{"data":{"name":"strips"},"transform":[{"filter":"datum.a==12"}],"mark":{"type":"text","fontSize":15,"fill":"#000"},"encoding":{"text":{"field":"label"},"x":{"datum":2.032,"scale":{"domain":[-0.376,4.44],"nice":false},"axis":null},"y":{"datum":320.65,"scale":{"domain":[21,345],"nice":false},"axis":null}}},{"data":{"name":"obs"},"transform":[{"filter":"datum.a==12"}],"encoding":{"x":{"field":"week","type":"quantitative","scale":{"domain":[-0.376,4.44],"nice":false},"axis":null},"y":{"field":"thiamine","type":"quantitative","scale":{"domain":[21,345],"nice":false},"axis":null}},"layer":[{"mark":{"type":"line","color":"#333","strokeWidth":1.2,"invalid":"break-paths-filter-domains"}},{"mark":{"type":"point","shape":"circle","filled":true,"fill":"#c4c9d9","stroke":"#3a3a3a","strokeWidth":1,"size":45,"opacity":1}}]}]},
{"width":97.3,"height":147.4,"layer":[{"data":{"name":"refs"},"mark":{"type":"rule","stroke":"#8c8c8c","strokeDash":[5,3],"strokeWidth":1.3},"encoding":{"y":{"field":"ref","type":"quantitative","scale":{"domain":[21,345],"nice":false},"axis":null}}},{"data":{"name":"strips"},"transform":[{"filter":"datum.a==13"}],"mark":{"type":"rect","fill":"#a4a9b8","stroke":"#222","strokeWidth":1},"encoding":{"x":{"value":0},"x2":{"value":"width"},"y":{"datum":296.3,"scale":{"domain":[21,345],"nice":false},"axis":null},"y2":{"datum":345}}},{"data":{"name":"strips"},"transform":[{"filter":"datum.a==13"}],"mark":{"type":"text","fontSize":15,"fill":"#000"},"encoding":{"text":{"field":"label"},"x":{"datum":2.032,"scale":{"domain":[-0.376,4.44],"nice":false},"axis":null},"y":{"datum":320.65,"scale":{"domain":[21,345],"nice":false},"axis":null}}},{"data":{"name":"obs"},"transform":[{"filter":"datum.a==13"}],"encoding":{"x":{"field":"week","type":"quantitative","scale":{"domain":[-0.376,4.44],"nice":false},"axis":null},"y":{"field":"thiamine","type":"quantitative","scale":{"domain":[21,345],"nice":false},"axis":null}},"layer":[{"mark":{"type":"line","color":"#333","strokeWidth":1.2,"invalid":"break-paths-filter-domains"}},{"mark":{"type":"point","shape":"circle","filled":true,"fill":"#c4c9d9","stroke":"#3a3a3a","strokeWidth":1,"size":45,"opacity":1}}]}]},
{"width":97.3,"height":147.4,"layer":[{"data":{"name":"refs"},"mark":{"type":"rule","stroke":"#8c8c8c","strokeDash":[5,3],"strokeWidth":1.3},"encoding":{"y":{"field":"ref","type":"quantitative","scale":{"domain":[21,345],"nice":false},"axis":null}}},{"data":{"name":"strips"},"transform":[{"filter":"datum.a==14"}],"mark":{"type":"rect","fill":"#a4a9b8","stroke":"#222","strokeWidth":1},"encoding":{"x":{"value":0},"x2":{"value":"width"},"y":{"datum":296.3,"scale":{"domain":[21,345],"nice":false},"axis":null},"y2":{"datum":345}}},{"data":{"name":"strips"},"transform":[{"filter":"datum.a==14"}],"mark":{"type":"text","fontSize":15,"fill":"#000"},"encoding":{"text":{"field":"label"},"x":{"datum":2.032,"scale":{"domain":[-0.376,4.44],"nice":false},"axis":null},"y":{"datum":320.65,"scale":{"domain":[21,345],"nice":false},"axis":null}}},{"data":{"name":"obs"},"transform":[{"filter":"datum.a==14"}],"encoding":{"x":{"field":"week","type":"quantitative","scale":{"domain":[-0.376,4.44],"nice":false},"axis":null},"y":{"field":"thiamine","type":"quantitative","scale":{"domain":[21,345],"nice":false},"axis":null}},"layer":[{"mark":{"type":"line","color":"#333","strokeWidth":1.2,"invalid":"break-paths-filter-domains"}},{"mark":{"type":"point","shape":"circle","filled":true,"fill":"#c4c9d9","stroke":"#3a3a3a","strokeWidth":1,"size":45,"opacity":1}}]}]},
{"width":97.3,"height":147.4,"layer":[{"data":{"name":"refs"},"mark":{"type":"rule","stroke":"#8c8c8c","strokeDash":[5,3],"strokeWidth":1.3},"encoding":{"y":{"field":"ref","type":"quantitative","scale":{"domain":[21,345],"nice":false},"axis":null}}},{"data":{"name":"strips"},"transform":[{"filter":"datum.a==15"}],"mark":{"type":"rect","fill":"#a4a9b8","stroke":"#222","strokeWidth":1},"encoding":{"x":{"value":0},"x2":{"value":"width"},"y":{"datum":296.3,"scale":{"domain":[21,345],"nice":false},"axis":null},"y2":{"datum":345}}},{"data":{"name":"strips"},"transform":[{"filter":"datum.a==15"}],"mark":{"type":"text","fontSize":15,"fill":"#000"},"encoding":{"text":{"field":"label"},"x":{"datum":2.032,"scale":{"domain":[-0.376,4.44],"nice":false},"axis":null},"y":{"datum":320.65,"scale":{"domain":[21,345],"nice":false},"axis":null}}},{"data":{"name":"obs"},"transform":[{"filter":"datum.a==15"}],"encoding":{"x":{"field":"week","type":"quantitative","scale":{"domain":[-0.376,4.44],"nice":false},"axis":null},"y":{"field":"thiamine","type":"quantitative","scale":{"domain":[21,345],"nice":false},"axis":null}},"layer":[{"mark":{"type":"line","color":"#333","strokeWidth":1.2,"invalid":"break-paths-filter-domains"}},{"mark":{"type":"point","shape":"circle","filled":true,"fill":"#c4c9d9","stroke":"#3a3a3a","strokeWidth":1,"size":45,"opacity":1}}]}]},
{"width":97.3,"height":147.4,"layer":[{"data":{"name":"refs"},"mark":{"type":"rule","stroke":"#8c8c8c","strokeDash":[5,3],"strokeWidth":1.3},"encoding":{"y":{"field":"ref","type":"quantitative","scale":{"domain":[21,345],"nice":false},"axis":{"orient":"right","title":null,"values":[50,100,150,200,250],"labelExpr":"datum.value==100||datum.value==200?datum.label:''","tickSize":{"condition":{"test":"datum.value==100||datum.value==200","value":10},"value":5},"labelPadding":9}}}},{"data":{"name":"strips"},"transform":[{"filter":"datum.a==16"}],"mark":{"type":"rect","fill":"#a4a9b8","stroke":"#222","strokeWidth":1},"encoding":{"x":{"value":0},"x2":{"value":"width"},"y":{"datum":296.3,"scale":{"domain":[21,345],"nice":false},"axis":{"orient":"right","title":null,"values":[50,100,150,200,250],"labelExpr":"datum.value==100||datum.value==200?datum.label:''","tickSize":{"condition":{"test":"datum.value==100||datum.value==200","value":10},"value":5},"labelPadding":9}},"y2":{"datum":345}}},{"data":{"name":"strips"},"transform":[{"filter":"datum.a==16"}],"mark":{"type":"text","fontSize":15,"fill":"#000"},"encoding":{"text":{"field":"label"},"x":{"datum":2.032,"scale":{"domain":[-0.376,4.44],"nice":false},"axis":null},"y":{"datum":320.65,"scale":{"domain":[21,345],"nice":false},"axis":{"orient":"right","title":null,"values":[50,100,150,200,250],"labelExpr":"datum.value==100||datum.value==200?datum.label:''","tickSize":{"condition":{"test":"datum.value==100||datum.value==200","value":10},"value":5},"labelPadding":9}}}},{"data":{"name":"obs"},"transform":[{"filter":"datum.a==16"}],"encoding":{"x":{"field":"week","type":"quantitative","scale":{"domain":[-0.376,4.44],"nice":false},"axis":null},"y":{"field":"thiamine","type":"quantitative","scale":{"domain":[21,345],"nice":false},"axis":{"orient":"right","title":null,"values":[50,100,150,200,250],"labelExpr":"datum.value==100||datum.value==200?datum.label:''","tickSize":{"condition":{"test":"datum.value==100||datum.value==200","value":10},"value":5},"labelPadding":9}}},"layer":[{"mark":{"type":"line","color":"#333","strokeWidth":1.2,"invalid":"break-paths-filter-domains"}},{"mark":{"type":"point","shape":"circle","filled":true,"fill":"#c4c9d9","stroke":"#3a3a3a","strokeWidth":1,"size":45,"opacity":1}}]}]},
{"width":97.3,"height":147.4,"layer":[{"data":{"name":"refs"},"mark":{"type":"rule","stroke":"#8c8c8c","strokeDash":[5,3],"strokeWidth":1.3},"encoding":{"y":{"field":"ref","type":"quantitative","scale":{"domain":[21,345],"nice":false},"axis":{"orient":"left","title":null,"values":[50,100,150,200,250],"labelExpr":"datum.value==100||datum.value==200?datum.label:''","tickSize":{"condition":{"test":"datum.value==100||datum.value==200","value":10},"value":5},"labelPadding":9}}}},{"data":{"name":"strips"},"transform":[{"filter":"datum.a==1"}],"mark":{"type":"rect","fill":"#a4a9b8","stroke":"#222","strokeWidth":1},"encoding":{"x":{"value":0},"x2":{"value":"width"},"y":{"datum":296.3,"scale":{"domain":[21,345],"nice":false},"axis":{"orient":"left","title":null,"values":[50,100,150,200,250],"labelExpr":"datum.value==100||datum.value==200?datum.label:''","tickSize":{"condition":{"test":"datum.value==100||datum.value==200","value":10},"value":5},"labelPadding":9}},"y2":{"datum":345}}},{"data":{"name":"strips"},"transform":[{"filter":"datum.a==1"}],"mark":{"type":"text","fontSize":15,"fill":"#000"},"encoding":{"text":{"field":"label"},"x":{"datum":2.032,"scale":{"domain":[-0.376,4.44],"nice":false},"axis":{"orient":"bottom","title":null,"values":[0,1,2,3,4],"labelExpr":"datum.value==1||datum.value==3?datum.label:''","tickSize":{"condition":{"test":"datum.value==1||datum.value==3","value":9},"value":4},"labelPadding":15}},"y":{"datum":320.65,"scale":{"domain":[21,345],"nice":false},"axis":{"orient":"left","title":null,"values":[50,100,150,200,250],"labelExpr":"datum.value==100||datum.value==200?datum.label:''","tickSize":{"condition":{"test":"datum.value==100||datum.value==200","value":10},"value":5},"labelPadding":9}}}},{"data":{"name":"obs"},"transform":[{"filter":"datum.a==1"}],"encoding":{"x":{"field":"week","type":"quantitative","scale":{"domain":[-0.376,4.44],"nice":false},"axis":{"orient":"bottom","title":null,"values":[0,1,2,3,4],"labelExpr":"datum.value==1||datum.value==3?datum.label:''","tickSize":{"condition":{"test":"datum.value==1||datum.value==3","value":9},"value":4},"labelPadding":15}},"y":{"field":"thiamine","type":"quantitative","scale":{"domain":[21,345],"nice":false},"axis":{"orient":"left","title":null,"values":[50,100,150,200,250],"labelExpr":"datum.value==100||datum.value==200?datum.label:''","tickSize":{"condition":{"test":"datum.value==100||datum.value==200","value":10},"value":5},"labelPadding":9}}},"layer":[{"mark":{"type":"line","color":"#333","strokeWidth":1.2,"invalid":"break-paths-filter-domains"}},{"mark":{"type":"point","shape":"circle","filled":true,"fill":"#c4c9d9","stroke":"#3a3a3a","strokeWidth":1,"size":45,"opacity":1}}]}]},
{"width":97.3,"height":147.4,"layer":[{"data":{"name":"refs"},"mark":{"type":"rule","stroke":"#8c8c8c","strokeDash":[5,3],"strokeWidth":1.3},"encoding":{"y":{"field":"ref","type":"quantitative","scale":{"domain":[21,345],"nice":false},"axis":null}}},{"data":{"name":"strips"},"transform":[{"filter":"datum.a==2"}],"mark":{"type":"rect","fill":"#a4a9b8","stroke":"#222","strokeWidth":1},"encoding":{"x":{"value":0},"x2":{"value":"width"},"y":{"datum":296.3,"scale":{"domain":[21,345],"nice":false},"axis":null},"y2":{"datum":345}}},{"data":{"name":"strips"},"transform":[{"filter":"datum.a==2"}],"mark":{"type":"text","fontSize":15,"fill":"#000"},"encoding":{"text":{"field":"label"},"x":{"datum":2.032,"scale":{"domain":[-0.376,4.44],"nice":false},"axis":null},"y":{"datum":320.65,"scale":{"domain":[21,345],"nice":false},"axis":null}}},{"data":{"name":"obs"},"transform":[{"filter":"datum.a==2"}],"encoding":{"x":{"field":"week","type":"quantitative","scale":{"domain":[-0.376,4.44],"nice":false},"axis":null},"y":{"field":"thiamine","type":"quantitative","scale":{"domain":[21,345],"nice":false},"axis":null}},"layer":[{"mark":{"type":"line","color":"#333","strokeWidth":1.2,"invalid":"break-paths-filter-domains"}},{"mark":{"type":"point","shape":"circle","filled":true,"fill":"#c4c9d9","stroke":"#3a3a3a","strokeWidth":1,"size":45,"opacity":1}}]}]},
{"width":97.3,"height":147.4,"layer":[{"data":{"name":"refs"},"mark":{"type":"rule","stroke":"#8c8c8c","strokeDash":[5,3],"strokeWidth":1.3},"encoding":{"y":{"field":"ref","type":"quantitative","scale":{"domain":[21,345],"nice":false},"axis":null}}},{"data":{"name":"strips"},"transform":[{"filter":"datum.a==3"}],"mark":{"type":"rect","fill":"#a4a9b8","stroke":"#222","strokeWidth":1},"encoding":{"x":{"value":0},"x2":{"value":"width"},"y":{"datum":296.3,"scale":{"domain":[21,345],"nice":false},"axis":null},"y2":{"datum":345}}},{"data":{"name":"strips"},"transform":[{"filter":"datum.a==3"}],"mark":{"type":"text","fontSize":15,"fill":"#000"},"encoding":{"text":{"field":"label"},"x":{"datum":2.032,"scale":{"domain":[-0.376,4.44],"nice":false},"axis":{"orient":"bottom","title":null,"values":[0,1,2,3,4],"labelExpr":"datum.value==1||datum.value==3?datum.label:''","tickSize":{"condition":{"test":"datum.value==1||datum.value==3","value":9},"value":4},"labelPadding":15}},"y":{"datum":320.65,"scale":{"domain":[21,345],"nice":false},"axis":null}}},{"data":{"name":"obs"},"transform":[{"filter":"datum.a==3"}],"encoding":{"x":{"field":"week","type":"quantitative","scale":{"domain":[-0.376,4.44],"nice":false},"axis":{"orient":"bottom","title":null,"values":[0,1,2,3,4],"labelExpr":"datum.value==1||datum.value==3?datum.label:''","tickSize":{"condition":{"test":"datum.value==1||datum.value==3","value":9},"value":4},"labelPadding":15}},"y":{"field":"thiamine","type":"quantitative","scale":{"domain":[21,345],"nice":false},"axis":null}},"layer":[{"mark":{"type":"line","color":"#333","strokeWidth":1.2,"invalid":"break-paths-filter-domains"}},{"mark":{"type":"point","shape":"circle","filled":true,"fill":"#c4c9d9","stroke":"#3a3a3a","strokeWidth":1,"size":45,"opacity":1}}]}]},
{"width":97.3,"height":147.4,"layer":[{"data":{"name":"refs"},"mark":{"type":"rule","stroke":"#8c8c8c","strokeDash":[5,3],"strokeWidth":1.3},"encoding":{"y":{"field":"ref","type":"quantitative","scale":{"domain":[21,345],"nice":false},"axis":null}}},{"data":{"name":"strips"},"transform":[{"filter":"datum.a==4"}],"mark":{"type":"rect","fill":"#a4a9b8","stroke":"#222","strokeWidth":1},"encoding":{"x":{"value":0},"x2":{"value":"width"},"y":{"datum":296.3,"scale":{"domain":[21,345],"nice":false},"axis":null},"y2":{"datum":345}}},{"data":{"name":"strips"},"transform":[{"filter":"datum.a==4"}],"mark":{"type":"text","fontSize":15,"fill":"#000"},"encoding":{"text":{"field":"label"},"x":{"datum":2.032,"scale":{"domain":[-0.376,4.44],"nice":false},"axis":null},"y":{"datum":320.65,"scale":{"domain":[21,345],"nice":false},"axis":null}}},{"data":{"name":"obs"},"transform":[{"filter":"datum.a==4"}],"encoding":{"x":{"field":"week","type":"quantitative","scale":{"domain":[-0.376,4.44],"nice":false},"axis":null},"y":{"field":"thiamine","type":"quantitative","scale":{"domain":[21,345],"nice":false},"axis":null}},"layer":[{"mark":{"type":"line","color":"#333","strokeWidth":1.2,"invalid":"break-paths-filter-domains"}},{"mark":{"type":"point","shape":"circle","filled":true,"fill":"#c4c9d9","stroke":"#3a3a3a","strokeWidth":1,"size":45,"opacity":1}}]}]},
{"width":97.3,"height":147.4,"layer":[{"data":{"name":"refs"},"mark":{"type":"rule","stroke":"#8c8c8c","strokeDash":[5,3],"strokeWidth":1.3},"encoding":{"y":{"field":"ref","type":"quantitative","scale":{"domain":[21,345],"nice":false},"axis":null}}},{"data":{"name":"strips"},"transform":[{"filter":"datum.a==5"}],"mark":{"type":"rect","fill":"#a4a9b8","stroke":"#222","strokeWidth":1},"encoding":{"x":{"value":0},"x2":{"value":"width"},"y":{"datum":296.3,"scale":{"domain":[21,345],"nice":false},"axis":null},"y2":{"datum":345}}},{"data":{"name":"strips"},"transform":[{"filter":"datum.a==5"}],"mark":{"type":"text","fontSize":15,"fill":"#000"},"encoding":{"text":{"field":"label"},"x":{"datum":2.032,"scale":{"domain":[-0.376,4.44],"nice":false},"axis":{"orient":"bottom","title":null,"values":[0,1,2,3,4],"labelExpr":"datum.value==1||datum.value==3?datum.label:''","tickSize":{"condition":{"test":"datum.value==1||datum.value==3","value":9},"value":4},"labelPadding":15}},"y":{"datum":320.65,"scale":{"domain":[21,345],"nice":false},"axis":null}}},{"data":{"name":"obs"},"transform":[{"filter":"datum.a==5"}],"encoding":{"x":{"field":"week","type":"quantitative","scale":{"domain":[-0.376,4.44],"nice":false},"axis":{"orient":"bottom","title":null,"values":[0,1,2,3,4],"labelExpr":"datum.value==1||datum.value==3?datum.label:''","tickSize":{"condition":{"test":"datum.value==1||datum.value==3","value":9},"value":4},"labelPadding":15}},"y":{"field":"thiamine","type":"quantitative","scale":{"domain":[21,345],"nice":false},"axis":null}},"layer":[{"mark":{"type":"line","color":"#333","strokeWidth":1.2,"invalid":"break-paths-filter-domains"}},{"mark":{"type":"point","shape":"circle","filled":true,"fill":"#c4c9d9","stroke":"#3a3a3a","strokeWidth":1,"size":45,"opacity":1}}]}]},
{"width":97.3,"height":147.4,"layer":[{"data":{"name":"refs"},"mark":{"type":"rule","stroke":"#8c8c8c","strokeDash":[5,3],"strokeWidth":1.3},"encoding":{"y":{"field":"ref","type":"quantitative","scale":{"domain":[21,345],"nice":false},"axis":null}}},{"data":{"name":"strips"},"transform":[{"filter":"datum.a==6"}],"mark":{"type":"rect","fill":"#a4a9b8","stroke":"#222","strokeWidth":1},"encoding":{"x":{"value":0},"x2":{"value":"width"},"y":{"datum":296.3,"scale":{"domain":[21,345],"nice":false},"axis":null},"y2":{"datum":345}}},{"data":{"name":"strips"},"transform":[{"filter":"datum.a==6"}],"mark":{"type":"text","fontSize":15,"fill":"#000"},"encoding":{"text":{"field":"label"},"x":{"datum":2.032,"scale":{"domain":[-0.376,4.44],"nice":false},"axis":null},"y":{"datum":320.65,"scale":{"domain":[21,345],"nice":false},"axis":null}}},{"data":{"name":"obs"},"transform":[{"filter":"datum.a==6"}],"encoding":{"x":{"field":"week","type":"quantitative","scale":{"domain":[-0.376,4.44],"nice":false},"axis":null},"y":{"field":"thiamine","type":"quantitative","scale":{"domain":[21,345],"nice":false},"axis":null}},"layer":[{"mark":{"type":"line","color":"#333","strokeWidth":1.2,"invalid":"break-paths-filter-domains"}},{"mark":{"type":"point","shape":"circle","filled":true,"fill":"#c4c9d9","stroke":"#3a3a3a","strokeWidth":1,"size":45,"opacity":1}}]}]},
{"width":97.3,"height":147.4,"layer":[{"data":{"name":"refs"},"mark":{"type":"rule","stroke":"#8c8c8c","strokeDash":[5,3],"strokeWidth":1.3},"encoding":{"y":{"field":"ref","type":"quantitative","scale":{"domain":[21,345],"nice":false},"axis":null}}},{"data":{"name":"strips"},"transform":[{"filter":"datum.a==7"}],"mark":{"type":"rect","fill":"#a4a9b8","stroke":"#222","strokeWidth":1},"encoding":{"x":{"value":0},"x2":{"value":"width"},"y":{"datum":296.3,"scale":{"domain":[21,345],"nice":false},"axis":null},"y2":{"datum":345}}},{"data":{"name":"strips"},"transform":[{"filter":"datum.a==7"}],"mark":{"type":"text","fontSize":15,"fill":"#000"},"encoding":{"text":{"field":"label"},"x":{"datum":2.032,"scale":{"domain":[-0.376,4.44],"nice":false},"axis":{"orient":"bottom","title":null,"values":[0,1,2,3,4],"labelExpr":"datum.value==1||datum.value==3?datum.label:''","tickSize":{"condition":{"test":"datum.value==1||datum.value==3","value":9},"value":4},"labelPadding":15}},"y":{"datum":320.65,"scale":{"domain":[21,345],"nice":false},"axis":null}}},{"data":{"name":"obs"},"transform":[{"filter":"datum.a==7"}],"encoding":{"x":{"field":"week","type":"quantitative","scale":{"domain":[-0.376,4.44],"nice":false},"axis":{"orient":"bottom","title":null,"values":[0,1,2,3,4],"labelExpr":"datum.value==1||datum.value==3?datum.label:''","tickSize":{"condition":{"test":"datum.value==1||datum.value==3","value":9},"value":4},"labelPadding":15}},"y":{"field":"thiamine","type":"quantitative","scale":{"domain":[21,345],"nice":false},"axis":null}},"layer":[{"mark":{"type":"line","color":"#333","strokeWidth":1.2,"invalid":"break-paths-filter-domains"}},{"mark":{"type":"point","shape":"circle","filled":true,"fill":"#c4c9d9","stroke":"#3a3a3a","strokeWidth":1,"size":45,"opacity":1}}]}]},
{"width":97.3,"height":147.4,"layer":[{"data":{"name":"refs"},"mark":{"type":"rule","stroke":"#8c8c8c","strokeDash":[5,3],"strokeWidth":1.3},"encoding":{"y":{"field":"ref","type":"quantitative","scale":{"domain":[21,345],"nice":false},"axis":null}}},{"data":{"name":"strips"},"transform":[{"filter":"datum.a==8"}],"mark":{"type":"rect","fill":"#a4a9b8","stroke":"#222","strokeWidth":1},"encoding":{"x":{"value":0},"x2":{"value":"width"},"y":{"datum":296.3,"scale":{"domain":[21,345],"nice":false},"axis":null},"y2":{"datum":345}}},{"data":{"name":"strips"},"transform":[{"filter":"datum.a==8"}],"mark":{"type":"text","fontSize":15,"fill":"#000"},"encoding":{"text":{"field":"label"},"x":{"datum":2.032,"scale":{"domain":[-0.376,4.44],"nice":false},"axis":null},"y":{"datum":320.65,"scale":{"domain":[21,345],"nice":false},"axis":null}}},{"data":{"name":"obs"},"transform":[{"filter":"datum.a==8"}],"encoding":{"x":{"field":"week","type":"quantitative","scale":{"domain":[-0.376,4.44],"nice":false},"axis":null},"y":{"field":"thiamine","type":"quantitative","scale":{"domain":[21,345],"nice":false},"axis":null}},"layer":[{"mark":{"type":"line","color":"#333","strokeWidth":1.2,"invalid":"break-paths-filter-domains"}},{"mark":{"type":"point","shape":"circle","filled":true,"fill":"#c4c9d9","stroke":"#3a3a3a","strokeWidth":1,"size":45,"opacity":1}}]}]}
]}]}]}],
"config":{"font":"Liberation Sans","view":{"stroke":"#000","strokeWidth":1.5},"axis":{"labelFont":"Liberation Sans","labelFontSize":19,"labelColor":"#000","tickColor":"#222","tickWidth":1.2,"domain":false,"grid":false,"labelOverlap":false,"labelBound":false,"labelFlush":false},"title":{"font":"Liberation Sans","fontSize":19,"fontWeight":"normal","color":"#000"},"text":{"font":"Liberation Sans"}}
}
